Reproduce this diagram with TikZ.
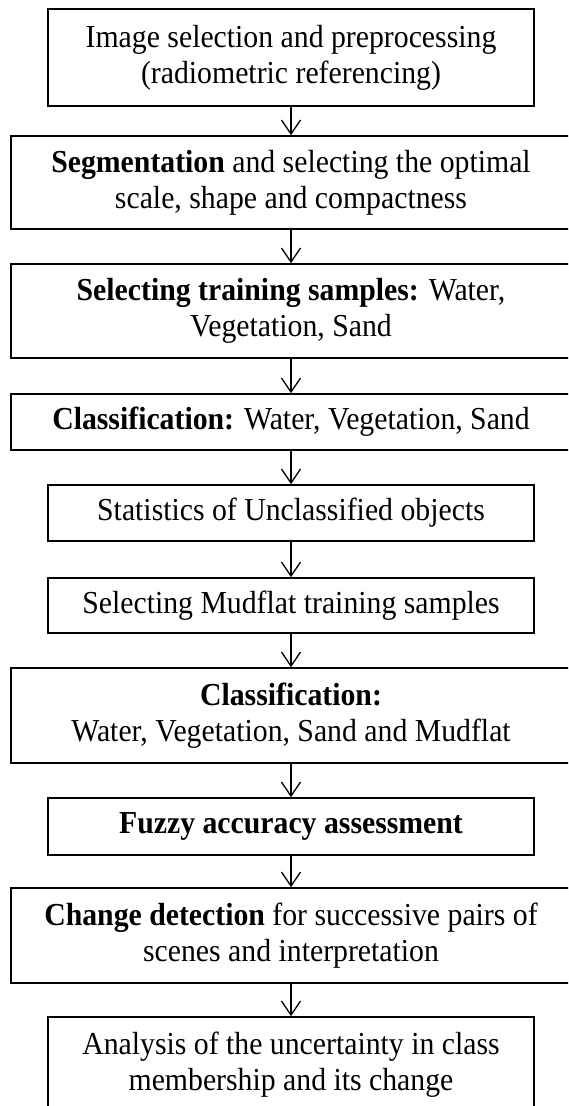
\documentclass[tikz,border=0pt]{standalone}
\usepackage{fontspec}
\setmainfont{Liberation Serif}[FakeStretch=0.93]
\usetikzlibrary{arrows.meta}
\begin{document}
\begin{tikzpicture}[x=1pt,y=-1pt,
  box/.style={draw, line width=1.6pt, rectangle, inner sep=0pt, align=center,
    font=\fontsize{32}{36}\selectfont},
  narrow/.style={box, minimum width=486pt},
  wide/.style={box, minimum width=560pt},
  arr/.style={line width=1.3pt, -{Straight Barb[length=14pt,width=19pt]}}
]
\useasboundingbox (0,0) rectangle (568,1106);
\clip (0,0) rectangle (568,1106);
\node[narrow, minimum height=97pt] (b1) at (291,57.5) {Image selection and preprocessing\\(radiometric referencing)};
\node[wide, minimum height=93pt] (b2) at (291,182.5) {\textbf{Segmentation} and selecting the optimal\\scale, shape and compactness};
\node[wide, minimum height=94pt] (b3) at (291,311) {\textbf{Selecting training samples:} Water,\\Vegetation, Sand};
\node[wide, minimum height=56pt] (b4) at (291,422) {\textbf{Classification:} Water, Vegetation, Sand};
\node[narrow, minimum height=56pt] (b5) at (291,513) {Statistics of Unclassified objects};
\node[narrow, minimum height=55pt] (b6) at (291,605.5) {Selecting Mudflat training samples};
\node[wide, minimum height=95pt] (b7) at (291,715.5) {\textbf{Classification:}\\Water, Vegetation, Sand and Mudflat};
\node[narrow, minimum height=57pt] (b8) at (291,826.5) {\textbf{Fuzzy accuracy assessment}};
\node[wide, minimum height=95pt] (b9) at (291,935.5) {\textbf{Change detection} for successive pairs of\\scenes and interpretation};
\node[narrow, minimum height=95pt] (b10) at (291,1064.5) {Analysis of the uncertainty in class\\membership and its change};
\draw[arr] (b1) -- (b2);
\draw[arr] (b2) -- (b3);
\draw[arr] (b3) -- (b4);
\draw[arr] (b4) -- (b5);
\draw[arr] (b5) -- (b6);
\draw[arr] (b6) -- (b7);
\draw[arr] (b7) -- (b8);
\draw[arr] (b8) -- (b9);
\draw[arr] (b9) -- (b10);
\end{tikzpicture}
\end{document}
